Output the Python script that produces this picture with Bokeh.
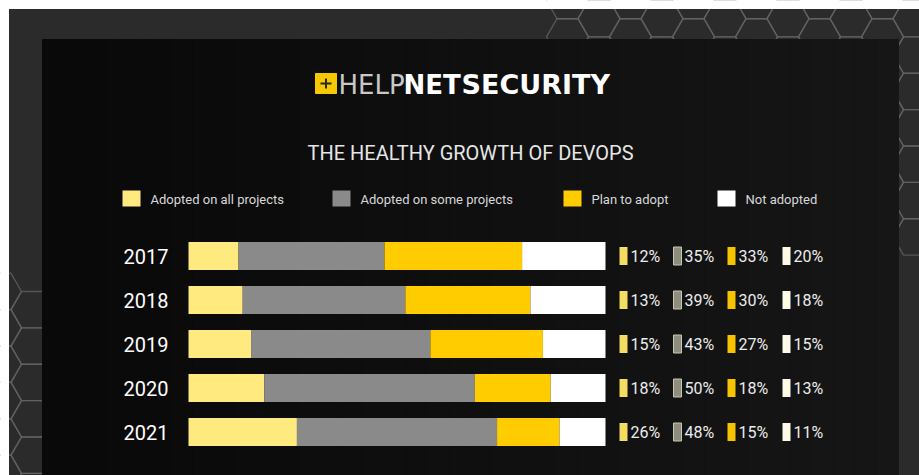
from bokeh.plotting import figure
from bokeh.models import Range1d, ColumnDataSource
from bokeh.core.properties import value
from bokeh.embed import file_html
from bokeh.resources import INLINE
import numpy as np

# ---------------- data ----------------
years = ["2017", "2018", "2019", "2020", "2021"]
series = ["Adopted on all projects", "Adopted on some projects", "Plan to adopt", "Not adopted"]
all_projects = [12, 13, 15, 18, 26]
some_projects = [35, 39, 43, 50, 48]
plan_to_adopt = [33, 30, 27, 18, 15]
not_adopted = [20, 18, 15, 13, 11]
chart_title = "THE HEALTHY GROWTH OF DEVOPS"
brand_parts = ["HELP", "NET", "SECURITY"]

bar_colors = ["#ffea80", "#8a8a8a", "#ffcc00", "#ffffff"]
chip_colors = ["#f3dc62", "#8e8c7c", "#f6c400", "#fffbe6"]

# ---------------- layout helpers (pixel -> data) ----------------
W, H = 919, 475
BAR_L = 188.0          # pixel where 0 % sits
PX_PER_PCT = 4.17      # pixels per percent
ROW0 = 255.5           # pixel centre of first row
ROW_STEP = 44.0        # pixels between rows


def X(px):
    return (px - BAR_L) / PX_PER_PCT


def Y(py):
    return (py - ROW0) / ROW_STEP


def XW(w):
    return w / PX_PER_PCT


def YH(h):
    return h / ROW_STEP


p = figure(width=W, height=H,
           x_range=Range1d(X(0), X(W)), y_range=Range1d(Y(H), Y(0)),
           output_backend="svg", toolbar_location=None, min_border=0)
p.axis.visible = False
p.grid.visible = False
p.outline_line_color = None
p.background_fill_color = "white"
p.border_fill_color = "white"

# ---------------- background ----------------
p.quad(left=X(8), right=X(W), top=Y(8), bottom=Y(H), color="#2b2b2b")

# hexagon texture in the frame (decorative)
r = 21.0
hx, hy = [], []
for col in range(-2, 30):
    for row in range(-2, 16):
        cx = col * 1.5 * r
        cy = row * np.sqrt(3) * r + (np.sqrt(3) * r / 2 if col % 2 else 0)
        if (cy < 70 and cx > 540) or (cx > 870 and cy < 250) or (cx < 60 and cy > 290):
            ang = np.deg2rad(np.arange(0, 361, 60))
            hx.append([X(cx + r * np.cos(a)) for a in ang])
            hy.append([Y(cy + r * np.sin(a)) for a in ang])
p.multi_line(xs=hx, ys=hy, line_color="#666666", line_alpha=0.7, line_width=1.4)

# inner dark panel with subtle horizontal gradient
n = 40
edges = np.linspace(42, 897, n + 1)
shades = np.linspace(9, 22, n).astype(int)
p.quad(left=[X(e) for e in edges[:-1]], right=[X(e) + XW(1) for e in edges[1:]],
       top=Y(39), bottom=Y(H),
       color=["#%02x%02x%02x" % (s, s, s) for s in shades])

# white margins
p.quad(left=X(0), right=X(W), top=Y(0), bottom=Y(8), color="white")
p.quad(left=X(0), right=X(8), top=Y(0), bottom=Y(H), color="white")

# ---------------- brand logo ----------------
p.quad(left=X(315), right=X(336), top=Y(73), bottom=Y(93), color="#f5c800")
p.segment(x0=[X(320), X(325.5)], y0=[Y(83), Y(78)], x1=[X(331), X(325.5)], y1=[Y(83), Y(88)],
          line_color="#2a2a10", line_width=2)
p.text(x=[X(338)], y=[Y(84)], text=[brand_parts[0]], text_font=value("DejaVu Sans"),
       text_font_size="26px", text_color="#c8c8c8", text_baseline="middle", text_align="left")
p.text(x=[X(403)], y=[Y(84)], text=[brand_parts[1]], text_font=value("DejaVu Sans"),
       text_font_style="bold", text_font_size="26px", text_color="#ffffff",
       text_baseline="middle", text_align="left")
p.text(x=[X(461)], y=[Y(84)], text=[brand_parts[2]], text_font=value("DejaVu Sans"),
       text_font_style="bold", text_font_size="27px", text_color="#ffffff",
       text_baseline="middle", text_align="left")

# ---------------- title ----------------
p.text(x=[X(470)], y=[Y(152)], text=[chart_title], text_font=value("Roboto"),
       text_font_size="20px", text_color="#e6e6e6", text_baseline="middle", text_align="center")

# ---------------- legend ----------------
leg_sq = [122, 332, 563, 717]
p.quad(left=[X(v) for v in leg_sq], right=[X(v + 18) for v in leg_sq],
       top=Y(190), bottom=Y(206), color=bar_colors, line_color=None)
p.text(x=[X(v + 28) for v in leg_sq], y=[Y(198.5)] * 4, text=series,
       text_font=value("Roboto"), text_font_size="13px", text_color="#d8d8d8",
       text_baseline="middle", text_align="left")

# ---------------- stacked bars ----------------
vals = [all_projects, some_projects, plan_to_adopt, not_adopted]
totals = [sum(v[i] for v in vals) for i in range(len(years))]
keys = ["all", "some", "plan", "not"]
data = {"y": list(range(len(years)))}
for k, v in zip(keys, vals):
    data[k] = [v[i] / totals[i] * 100 for i in range(len(years))]
src = ColumnDataSource(data)
p.hbar_stack(keys, y="y", height=0.64, color=bar_colors, line_color=None, source=src)

# year labels
p.text(x=[X(168)] * len(years), y=list(range(len(years))), text=years,
       text_font=value("Roboto"), text_font_size="20px", text_color="#ffffff",
       text_baseline="middle", text_align="right")

# ---------------- value chips ----------------
chip_x = [619, 673, 727, 782]
for j, (v, c) in enumerate(zip(vals, chip_colors)):
    ys = list(range(len(years)))
    p.quad(left=[X(chip_x[j])] * len(years), right=[X(chip_x[j] + 8)] * len(years),
           top=[y - YH(9) for y in ys], bottom=[y + YH(9) for y in ys],
           color=c, line_color="#c9c7b0" if j == 1 else None)
    p.text(x=[X(chip_x[j] + 11)] * len(years), y=ys, text=["%d%%" % t for t in v],
           text_font=value("Roboto"), text_font_size="16px", text_color="#ececec",
           text_baseline="middle", text_align="left")

open("out.html", "w").write(file_html(p, INLINE))
